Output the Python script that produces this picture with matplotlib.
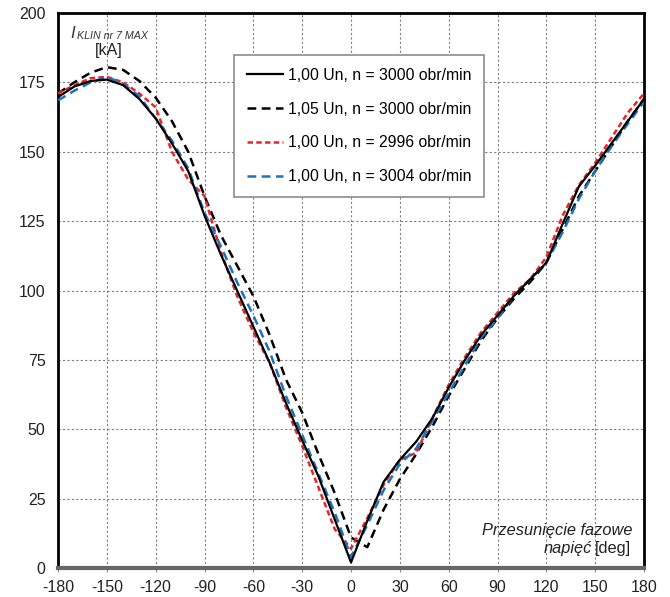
import matplotlib
matplotlib.use('Agg')
import matplotlib.pyplot as plt

plt.rcParams['font.family'] = ['Liberation Sans', 'DejaVu Sans']
plt.rcParams['axes.unicode_minus'] = False

# przesuniecie fazowe napiec [deg]
phase = [-180, -170, -160, -150, -140, -130, -120, -110, -100, -90, -80, -70,
         -60, -50, -40, -30, -20, -10, 0, 10, 20, 30, 40, 50, 60, 70, 80, 90,
         100, 110, 120, 130, 140, 150, 160, 170, 180]

# prad maksymalny [kA] dla poszczegolnych wariantow
i_100_3000 = [169.7, 173.5, 175.5, 176.0, 174.0, 169.0, 162.0, 153.0, 143.0, 127.0, 113.0, 100.0,
              87.0, 74.0, 59.5, 46.0, 33.0, 17.5, 2.0, 17.0, 31.0, 39.0, 45.5, 54.0, 65.0, 75.0, 84.0, 91.0,
              98.0, 104.0, 110.0, 124.0, 137.5, 145.0, 153.0, 161.0, 169.0]
i_105_3000 = [171.0, 175.0, 178.5, 180.5, 179.5, 175.5, 169.5, 161.0, 150.0, 134.0, 120.0, 109.0,
              98.0, 84.0, 68.0, 56.0, 41.0, 27.0, 11.0, 7.5, 21.0, 32.0, 41.0, 51.0, 62.0, 72.0, 82.0, 90.0,
              97.0, 103.0, 110.0, 122.0, 134.0, 143.0, 152.0, 161.0, 169.0]
i_100_2996 = [171.0, 174.0, 176.5, 177.0, 175.0, 171.0, 166.0, 150.0, 140.0, 134.0, 114.0, 98.0,
              85.0, 74.0, 58.0, 44.0, 29.0, 14.0, 7.0, 18.0, 30.0, 39.0, 41.5, 54.0, 66.0, 76.0, 85.0, 92.0,
              99.0, 104.0, 112.0, 127.0, 138.0, 146.0, 155.0, 164.0, 171.0]
i_100_3004 = [168.5, 172.0, 175.0, 177.0, 174.5, 170.0, 162.0, 154.0, 144.0, 128.0, 116.0, 103.0,
              91.0, 78.0, 62.0, 48.0, 34.0, 20.0, 4.0, 15.5, 28.0, 37.5, 43.0, 53.0, 63.0, 73.0, 83.0, 90.0,
              98.0, 104.0, 110.0, 121.0, 133.0, 143.0, 152.0, 160.0, 168.0]

labels = ['1,00 Un, n = 3000 obr/min',
          '1,05 Un, n = 3000 obr/min',
          '1,00 Un, n = 2996 obr/min',
          '1,00 Un, n = 3004 obr/min']

x_ticks = list(range(-180, 181, 30))
y_ticks = list(range(0, 201, 25))

fig = plt.figure(figsize=(6.7, 5.97), dpi=100)
ax = fig.add_axes([0.0866, 0.0486, 0.8746, 0.9296])

ax.plot(phase, i_100_3000, color='black', lw=1.6, label=labels[0], zorder=4)
ax.plot(phase, i_105_3000, color='black', lw=1.8, ls=(0, (3.5, 2.2)), label=labels[1], zorder=3)
ax.plot(phase, i_100_2996, color='#e8252b', lw=1.8, ls=(0, (2.2, 1.3)), label=labels[2], zorder=3)
ax.plot(phase, i_100_3004, color='#1f72bd', lw=1.8, ls=(0, (3.5, 2.2)), label=labels[3], zorder=3)

ax.set_xlim(-180, 180)
ax.set_ylim(0, 200)
ax.set_xticks(x_ticks)
ax.set_yticks(y_ticks)
ax.grid(True, color='#7f7f7f', ls=(0, (2, 2)), lw=0.8)
ax.set_axisbelow(True)

ax.tick_params(axis='x', length=3, color='#888888', pad=6, labelsize=11.5, labelcolor='#222222')
ax.tick_params(axis='y', length=0, pad=9, labelsize=11.5, labelcolor='#222222')

for side in ['left', 'top', 'right']:
    ax.spines[side].set_color('black')
    ax.spines[side].set_linewidth(2)
ax.spines['bottom'].set_color('#666666')
ax.spines['bottom'].set_linewidth(3)

leg = ax.legend(loc='upper left', bbox_to_anchor=(0.301, 0.924), fontsize=11.3,
                frameon=True, fancybox=False, edgecolor='#8c8c8c', framealpha=1,
                handlelength=2.3, handletextpad=0.3, labelspacing=1.2,
                borderpad=0.8, borderaxespad=0)
leg.get_frame().set_linewidth(1.2)

# opis osi Y
fig.text(70 / 670, 1 - 33 / 597, 'I', fontsize=12, style='italic', color='#333333',
         va='center', ha='left')
fig.text(77 / 670, 1 - 36 / 597, 'KLIN nr 7 MAX', fontsize=7.7, style='italic',
         color='#333333', va='center', ha='left')
fig.text(109 / 670, 1 - 51 / 597, '[kA]', fontsize=11.5, color='#222222',
         va='center', ha='center')

# opis osi X
fig.text(632 / 670, 1 - 530 / 597, 'Przesunięcie fazowe', fontsize=11.8,
         style='italic', color='#222222', va='center', ha='right')
deg = fig.text(631 / 670, 1 - 549 / 597, '[deg]', fontsize=11.8, color='#222222',
               va='center', ha='right')
fig.canvas.draw()
bb = deg.get_window_extent()
fig.text((bb.x0 - 3) / 670, 1 - 549 / 597, 'napięć', fontsize=11.8, style='italic',
         color='#222222', va='center', ha='right')

fig.savefig('out.png', dpi=100)
